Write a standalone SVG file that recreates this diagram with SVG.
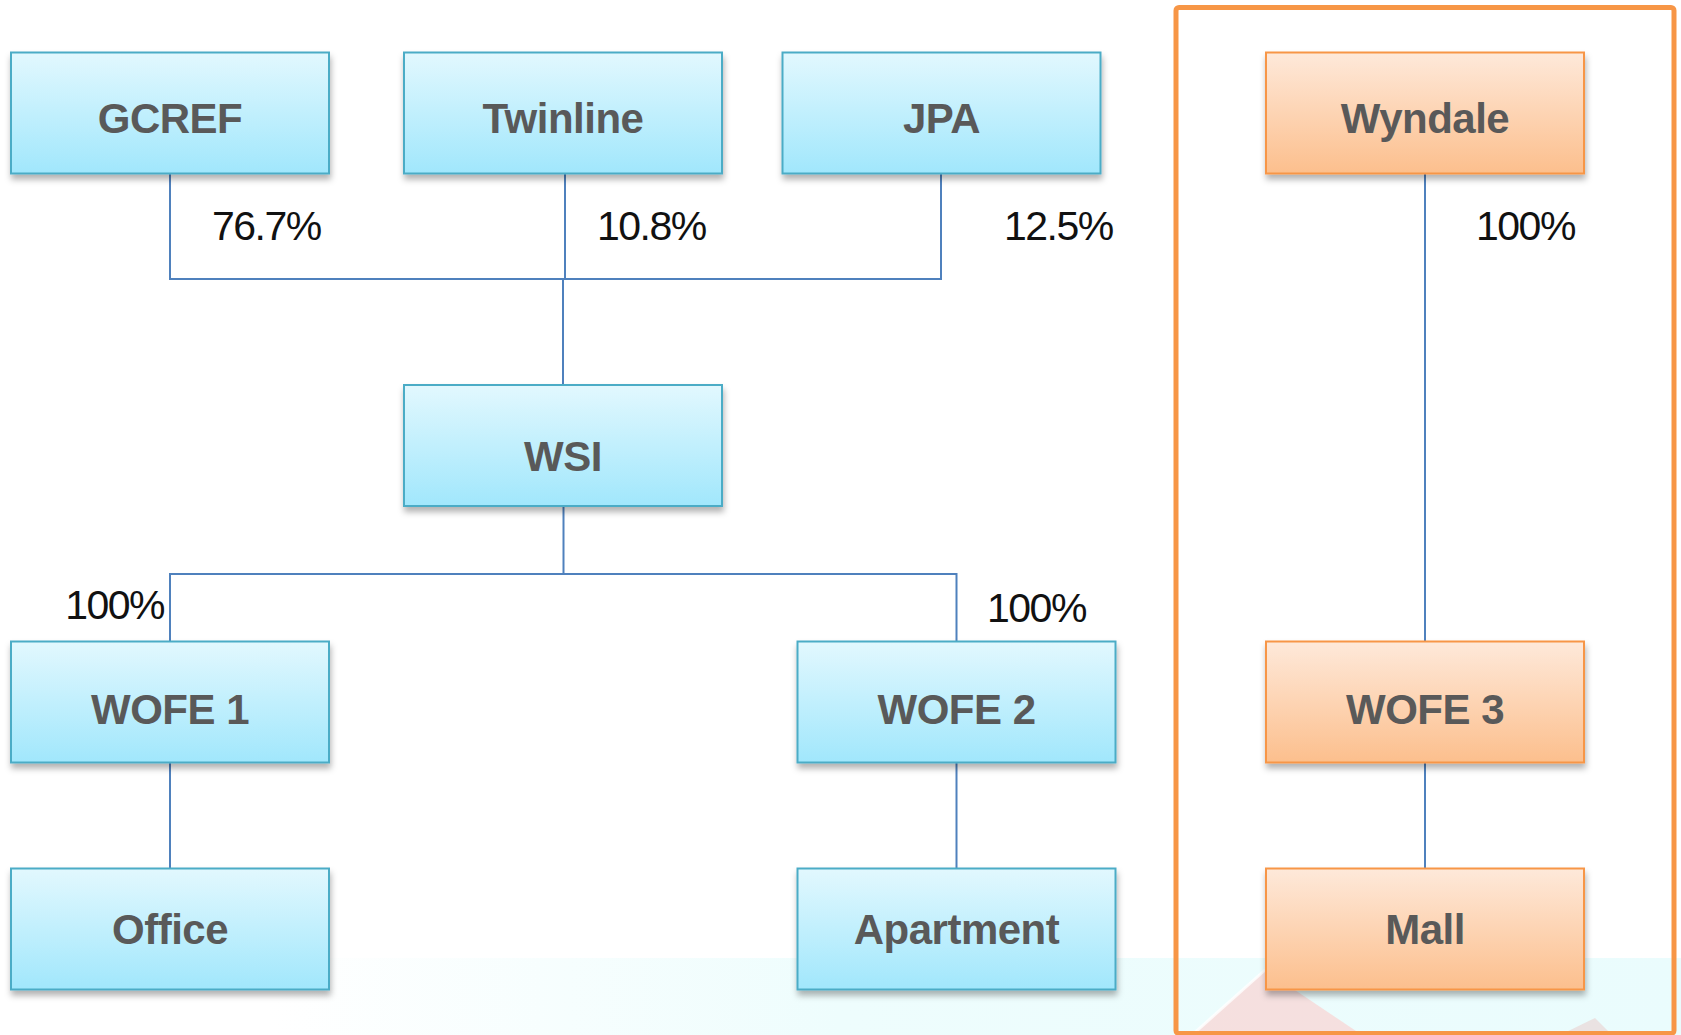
<svg xmlns="http://www.w3.org/2000/svg" width="1681" height="1035" viewBox="0 0 1681 1035">
<defs>
<linearGradient id="gBlue" x1="0" y1="0" x2="0" y2="1">
<stop offset="0" stop-color="#E2F8FE"/>
<stop offset="1" stop-color="#A1E7FC"/>
</linearGradient>
<linearGradient id="gOrange" x1="0" y1="0" x2="0" y2="1">
<stop offset="0" stop-color="#FEE9DA"/>
<stop offset="1" stop-color="#FCBF8D"/>
</linearGradient>
<linearGradient id="gBand" x1="0" y1="0" x2="1" y2="0">
<stop offset="0" stop-color="#FFFFFF"/>
<stop offset="0.16" stop-color="#FFFFFF"/>
<stop offset="0.5" stop-color="#EEFDFD"/>
<stop offset="1" stop-color="#EAFCFD"/>
</linearGradient>
<filter id="shadow" x="-10%" y="-10%" width="125%" height="140%">
<feDropShadow dx="1" dy="5" stdDeviation="3" flood-color="#000" flood-opacity="0.3"/>
</filter>
<style>
.box-b{fill:url(#gBlue);stroke:#4BACC6;stroke-width:2;filter:url(#shadow)}
.box-o{fill:url(#gOrange);stroke:#F79646;stroke-width:2;filter:url(#shadow)}
.lbl{font-family:"Liberation Sans",Arial,sans-serif;font-weight:bold;font-size:42px;fill:#595959;text-anchor:middle;letter-spacing:-0.5px}
.pct{font-family:"Liberation Sans",Arial,sans-serif;font-size:41px;fill:#111;letter-spacing:-1.5px}
.ln{stroke:#4F81BD;stroke-width:2;fill:none}
</style>
</defs>
<rect width="1681" height="1035" fill="#FFFFFF"/>
<g id="background">
<rect x="0" y="958" width="1681" height="77" fill="url(#gBand)"/>
<polygon points="1192,1035 1265,970 1362,1035" fill="#F9D3D1" opacity="0.7"/>
<polyline points="1192,1035 1265,970" stroke="#FFFFFF" stroke-width="3" fill="none" opacity="0.8"/>
<polygon points="1560,1035 1595,1018 1612,1035" fill="#E9D7D5" opacity="0.7"/>
</g>
<rect id="frame" x="1176" y="7.5" width="498" height="1026" rx="3" fill="none" stroke="#F79646" stroke-width="5"/>
<g id="connectors">
<polyline class="ln" points="170,174 170,279 941,279 941,174"/>
<line class="ln" x1="565" y1="174" x2="565" y2="279"/>
<line class="ln" x1="563" y1="279" x2="563" y2="385" stroke-width="3"/>
<line class="ln" x1="563.5" y1="506" x2="563.5" y2="574"/>
<polyline class="ln" points="170,641 170,574 956.5,574 956.5,641"/>
<line class="ln" x1="170" y1="763" x2="170" y2="869"/>
<line class="ln" x1="956.5" y1="763" x2="956.5" y2="869"/>
<line class="ln" x1="1425" y1="174" x2="1425" y2="641"/>
<line class="ln" x1="1425" y1="763" x2="1425" y2="869"/>
</g>
<g id="labels">
<text class="pct" x="212" y="240">76.7%</text>
<text class="pct" x="597" y="240">10.8%</text>
<text class="pct" x="1004" y="240">12.5%</text>
<text class="pct" x="1476" y="240">100%</text>
<text class="pct" x="164" y="619" text-anchor="end">100%</text>
<text class="pct" x="987" y="622">100%</text>
</g>
<g id="node-gcref"><rect class="box-b" x="11" y="52.5" width="318" height="121"/><text class="lbl" x="170" y="133">GCREF</text></g>
<g id="node-twinline"><rect class="box-b" x="404" y="52.5" width="318" height="121"/><text class="lbl" x="563" y="133">Twinline</text></g>
<g id="node-jpa"><rect class="box-b" x="782.5" y="52.5" width="318" height="121"/><text class="lbl" x="941.5" y="133">JPA</text></g>
<g id="node-wyndale"><rect class="box-o" x="1266" y="52.5" width="318" height="121"/><text class="lbl" x="1425" y="133">Wyndale</text></g>
<g id="node-wsi"><rect class="box-b" x="404" y="385" width="318" height="121"/><text class="lbl" x="563" y="471">WSI</text></g>
<g id="node-wofe1"><rect class="box-b" x="11" y="641.5" width="318" height="121"/><text class="lbl" x="170" y="724">WOFE 1</text></g>
<g id="node-wofe2"><rect class="box-b" x="797.5" y="641.5" width="318" height="121"/><text class="lbl" x="956.5" y="724">WOFE 2</text></g>
<g id="node-wofe3"><rect class="box-o" x="1266" y="641.5" width="318" height="121"/><text class="lbl" x="1425" y="724">WOFE 3</text></g>
<g id="node-office"><rect class="box-b" x="11" y="868.5" width="318" height="121"/><text class="lbl" x="170" y="944">Office</text></g>
<g id="node-apartment"><rect class="box-b" x="797.5" y="868.5" width="318" height="121"/><text class="lbl" x="956.5" y="944">Apartment</text></g>
<g id="node-mall"><rect class="box-o" x="1266" y="868.5" width="318" height="121"/><text class="lbl" x="1425" y="944">Mall</text></g>
</svg>
